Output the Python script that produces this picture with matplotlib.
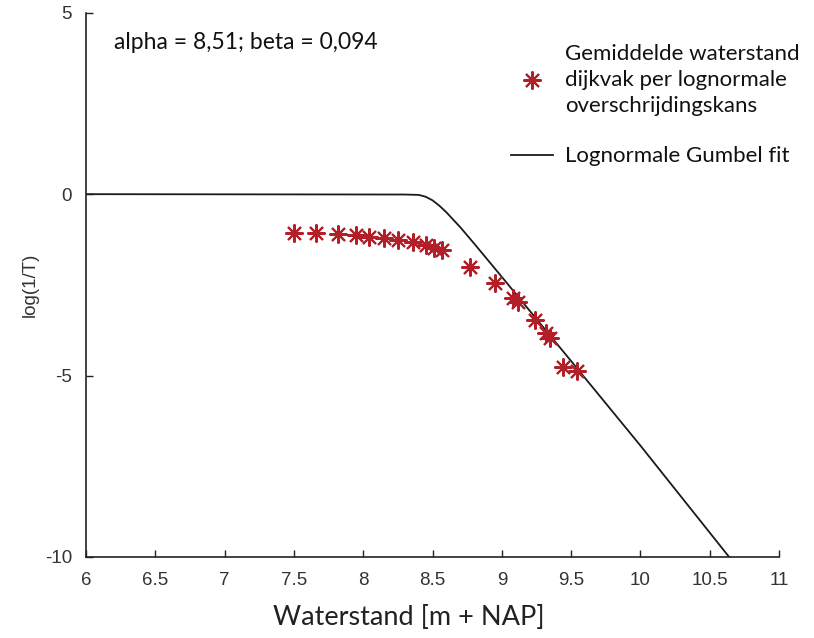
import matplotlib.pyplot as plt

plt.rcParams['axes.unicode_minus'] = False

# Data
obs_x = [7.50, 7.66, 7.82, 7.95, 8.04, 8.15, 8.25, 8.36, 8.45, 8.51, 8.57,
         8.77, 8.95, 9.08, 9.12, 9.24, 9.32, 9.35, 9.44, 9.54]
obs_y = [-1.07, -1.08, -1.10, -1.13, -1.18, -1.20, -1.25, -1.31, -1.40, -1.48, -1.54,
         -2.02, -2.44, -2.87, -2.97, -3.47, -3.84, -3.96, -4.76, -4.87]

fit_x = [6.00, 8.30, 8.40, 8.45, 8.50, 8.55, 8.60, 8.70, 8.80, 9.00, 9.50, 10.00, 10.64]
fit_y = [0.00, -0.01, -0.02, -0.07, -0.17, -0.32, -0.50, -0.91, -1.36, -2.28, -4.60, -6.93, -10.00]

x_ticks = [6, 6.5, 7, 7.5, 8, 8.5, 9, 9.5, 10, 10.5, 11]
x_tick_labels = ['6', '6.5', '7', '7.5', '8', '8.5', '9', '9.5', '10', '10.5', '11']
y_ticks = [-10, -5, 0, 5]

label_font = 'Lato'
tick_font = 'Liberation Sans'
star_color = '#b21f28'

fig = plt.figure(figsize=(8.14, 6.38), dpi=100)
ax = fig.add_axes([0.1057, 0.127, 0.8513, 0.853])

ax.plot(fit_x, fit_y, color='#1a1a1a', lw=1.3, label='Lognormale Gumbel fit', zorder=2)
ax.plot(obs_x, obs_y, ls='none', marker=(8, 2, 0), ms=13, mew=1.5,
        color=star_color,
        label='Gemiddelde waterstand\ndijkvak per lognormale\noverschrijdingskans',
        zorder=3)

ax.set_xlim(6, 11)
ax.set_ylim(-10, 5)
ax.set_xticks(x_ticks)
ax.set_xticklabels(x_tick_labels)
ax.set_yticks(y_ticks)

for side in ['top', 'right']:
    ax.spines[side].set_visible(False)
for side in ['left', 'bottom']:
    ax.spines[side].set_linewidth(1.2)
    ax.spines[side].set_color('#222222')

ax.tick_params(direction='in', length=5, width=1.0, colors='#222222')
ax.tick_params(axis='x', pad=11)
ax.tick_params(axis='y', pad=10)
for lbl in ax.get_xticklabels() + ax.get_yticklabels():
    lbl.set_fontfamily(tick_font)
    lbl.set_fontsize(13.5)
    lbl.set_color('#333333')

ax.set_xlabel('Waterstand [m + NAP]', fontfamily=label_font, fontsize=19.5,
              color='#222222')
ax.xaxis.set_label_coords(0.466, -0.088)
ax.set_ylabel('log(1/T)', fontfamily=tick_font, fontsize=13.5, color='#333333')
ax.yaxis.set_label_coords(-0.068, 0.5)

ax.text(0.04, 0.945, 'alpha = 8,51; beta = 0,094', transform=ax.transAxes,
        fontfamily=label_font, fontsize=16.5, color='#111111', va='center')

handles, labels = ax.get_legend_handles_labels()
leg = ax.legend(handles[::-1], labels[::-1], loc='upper left',
                bbox_to_anchor=(0.603, 0.963), bbox_transform=fig.transFigure,
                frameon=False, handlelength=1.9, handletextpad=0.55,
                labelspacing=1.35, prop={'family': label_font, 'size': 16})
for t in leg.get_texts():
    t.set_color('#111111')
    t.set_linespacing(1.4)

fig.savefig('out.png', dpi=100)
